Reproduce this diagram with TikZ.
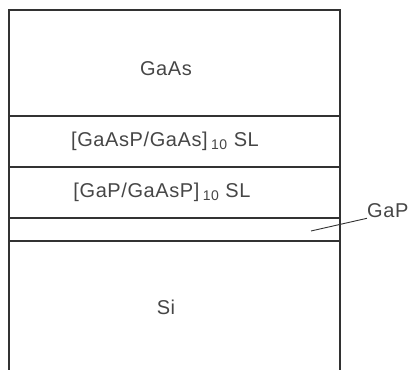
\documentclass[tikz,border=0pt]{standalone}
\usepackage{fontspec}
\setmainfont{Liberation Sans}[LetterSpace=3]
\usepackage{tikz}
\usetikzlibrary{positioning}
\definecolor{cLine}{RGB}{50,50,50}
\definecolor{cText}{RGB}{70,70,70}
\tikzset{
	layerline/.style={draw=cLine, line width=1.3pt},
	layertext/.style={text=cText, font=\fontsize{20}{22}\selectfont, inner sep=0pt},
	leader/.style={draw=cLine, line width=0.9pt},
}

\begin{document}
\begin{tikzpicture}[x=1pt, y=-1pt]
			\useasboundingbox (0,0) rectangle (408,370);
			% sides of the stack, open at the bottom
			\draw[layerline] (9,370) -- (9,10) -- (340,10) -- (340,370);
			% interfaces between layers
			\foreach \y in {116,167,218,241}
				\draw[layerline] (9,\y) -- (340,\y);
			\node[layertext] (gaas) at (166,69) {GaAs};
			\node[layertext] (slA) at (165,141) {[GaAsP/GaAs]\,\textsubscript{10} SL};
			\node[layertext] (slB) at (162,192) {[GaP/GaAsP]\,\textsubscript{10} SL};
			\node[layertext] (si) at (166,307) {Si};
			\node[layertext, anchor=west] (gap) at (367,211) {GaP};
			\coordinate (gapin) at (311,231);
			\draw[leader] (gapin) -- (gap.south west);
		\end{tikzpicture}
\end{document}
